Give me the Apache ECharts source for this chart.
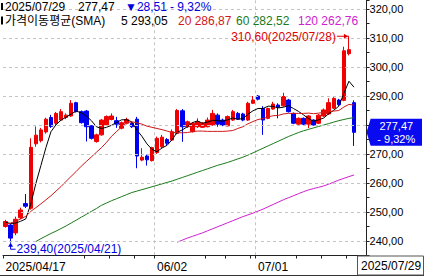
<!DOCTYPE html>
<html><head><meta charset="utf-8">
<script src="https://cdn.jsdelivr.net/npm/echarts@6/dist/echarts.min.js"></script>
<style>html,body{margin:0;padding:0;background:#fff}#c{width:424px;height:278px}</style>
</head><body><div id="c"></div>
<script>
const dates = ['2025/04/17','2025/04/21','2025/04/22','2025/04/23','2025/04/24','2025/04/25','2025/04/28','2025/04/29','2025/04/30','2025/05/01','2025/05/02','2025/05/05','2025/05/06','2025/05/07','2025/05/08','2025/05/09','2025/05/12','2025/05/13','2025/05/14','2025/05/15','2025/05/16','2025/05/19','2025/05/20','2025/05/21','2025/05/22','2025/05/23','2025/05/27','2025/05/28','2025/05/29','2025/05/30','2025/06/02','2025/06/03','2025/06/04','2025/06/05','2025/06/06','2025/06/09','2025/06/10','2025/06/11','2025/06/12','2025/06/13','2025/06/16','2025/06/17','2025/06/18','2025/06/20','2025/06/23','2025/06/24','2025/06/25','2025/06/26','2025/06/27','2025/06/30','2025/07/01','2025/07/02','2025/07/03','2025/07/07','2025/07/08','2025/07/09','2025/07/10','2025/07/11','2025/07/14','2025/07/15','2025/07/16','2025/07/17','2025/07/18','2025/07/21','2025/07/22','2025/07/23','2025/07/24','2025/07/25','2025/07/28','2025/07/29'];
const opens = [245.0,245.5,242.8,248.0,252.9,251.3,273.5,274.6,277.6,282.6,
280.6,281.7,282.6,283.1,287.7,284.6,284.8,279.7,274.3,276.6,
280.0,281.9,281.5,278.9,280.6,280.6,282.0,267.9,269.3,267.7,
270.5,272.5,275.0,274.8,277.1,284.9,279.4,277.7,279.4,279.2,
279.4,280.0,283.4,281.7,279.7,281.7,284.0,283.8,281.7,287.5,
290.0,285.7,282.3,285.5,286.9,286.6,288.6,284.0,280.3,282.3,
280.3,281.7,280.6,283.1,283.8,285.8,288.6,288.5,304.6,287.7];
const closes = [246.7,241.0,247.5,250.7,252.0,272.3,276.5,278.3,282.0,279.5,
284.0,284.6,283.4,287.5,284.6,280.8,279.4,275.4,276.6,281.7,
282.9,283.1,280.3,280.8,281.9,279.4,269.3,268.9,268.0,272.2,
275.4,275.8,273.7,277.7,285.0,279.4,281.1,280.6,281.1,280.6,
281.7,284.0,280.3,280.0,282.9,284.6,282.0,281.7,287.5,288.6,
288.9,281.7,285.7,287.2,286.1,289.8,284.6,280.6,282.3,280.3,
283.1,280.0,283.4,285.2,287.7,289.2,287.0,305.6,305.98,277.47];
const highs = [247.3,246.0,248.4,251.5,256.2,275.4,279.5,279.0,282.5,283.5,
284.5,285.5,284.0,288.6,288.0,285.0,285.2,280.0,277.0,282.0,
283.3,284.0,282.8,281.2,282.5,281.0,282.8,272.0,269.8,272.5,
276.0,276.6,275.5,278.5,285.5,285.5,281.5,281.0,282.3,281.0,
282.6,285.2,284.0,282.2,283.3,285.2,284.5,284.2,288.0,290.0,
290.3,286.5,286.0,288.0,287.5,291.1,289.0,284.3,282.6,282.6,
283.4,282.0,283.8,285.7,289.2,289.6,289.0,307.0,310.6,288.5];
const lows = [244.6,239.4,242.0,247.5,251.4,250.8,272.5,274.0,277.0,279.0,
280.0,281.5,282.0,282.8,284.3,280.5,274.3,275.0,273.9,276.3,
279.8,281.6,279.0,278.5,280.2,279.0,265.1,267.5,266.0,267.4,
270.0,272.0,273.0,274.5,276.8,274.2,279.0,277.4,279.0,279.0,
279.2,279.8,279.4,279.6,279.5,281.4,281.7,281.3,281.4,287.2,
288.5,276.6,282.0,285.3,282.3,286.3,284.3,280.3,280.0,280.0,
278.9,279.8,280.3,282.8,283.5,285.5,286.6,288.2,304.0,272.8];
const ma5 = [246.5,246.0,246.2,246.8,247.6,252.7,259.8,266.0,272.2,277.7,
280.1,281.7,282.7,283.8,284.8,284.2,283.1,281.5,279.4,278.8,
279.2,279.9,280.9,281.8,281.8,281.1,278.3,276.1,273.5,271.6,
270.8,272.1,273.0,275.0,277.5,278.3,279.4,280.8,281.4,280.6,
281.0,281.6,281.5,281.3,281.8,282.4,282.0,282.2,283.7,284.9,
285.7,285.7,286.5,286.4,285.9,286.1,286.7,285.7,284.7,283.5,
282.2,281.3,281.8,282.4,283.9,285.1,286.5,290.9,295.1,293.05];
const ma20 = [245.8,246.2,246.8,247.6,248.5,250.2,251.5,252.8,254.2,255.6,
257.2,258.8,260.6,262.3,264.0,265.8,267.4,269.0,270.6,272.2,
274.0,276.1,277.8,279.3,280.8,281.1,280.8,280.3,279.6,279.2,
278.8,278.4,277.9,277.4,277.4,277.3,277.4,277.7,277.9,277.9,
277.8,277.8,277.8,277.8,277.9,278.1,278.8,279.4,280.4,281.2,
281.9,282.2,282.8,283.2,283.3,283.8,284.0,284.0,284.0,284.0,
284.1,283.9,284.1,284.3,284.6,284.8,285.0,286.2,287.1,286.87];
const ma60 = [null,null,null,null,null,null,239.8,240.8,241.7,242.6,
243.4,244.3,245.2,246.2,247.2,248.2,249.2,250.2,251.2,252.3,
253.1,253.9,254.6,255.3,256.0,256.7,257.2,257.7,258.2,258.7,
259.2,259.7,260.2,260.7,261.3,261.9,262.5,263.1,263.7,264.3,
264.9,265.5,266.1,266.6,267.1,267.7,268.3,268.9,269.6,270.4,
271.2,272.0,272.8,273.6,274.4,275.2,276.0,276.7,277.4,278.0,
278.5,279.0,279.5,280.0,280.5,281.0,281.5,281.9,282.3,282.52];
const ma120 = [null,null,null,null,null,null,null,null,null,null,
null,null,null,null,null,null,null,null,null,null,
null,null,null,null,null,null,null,null,null,null,
null,null,null,null,239.6,240.3,241.0,241.6,242.2,242.8,
243.5,244.2,244.9,245.6,246.3,247.0,247.7,248.4,249.0,249.6,
250.3,251.0,251.8,252.6,253.4,254.2,254.9,255.6,256.3,257.0,
257.6,258.1,258.5,259.0,259.6,260.3,261.0,261.6,262.2,262.76];
const yTicks = [240,250,260,270,280,290,300,310,320];
const xLabels = ['2025/04/17','06/02','07/01'];
const xTickDates = ['2025/04/17','2025/05/12','2025/05/19','2025/05/27','2025/06/02','2025/06/16','2025/06/23','2025/06/30','2025/07/01','2025/07/14','2025/07/21','2025/07/28'];
const maNames = ['5','20','60','120'];
const maColors = ['#000000','#d01818','#1a7a1a','#d020d0'];
const upColor = '#f00000', downColor = '#0000f0';

const W = 424, H = 278;
const FONT = "'Liberation Sans','Noto Sans CJK KR',sans-serif";
const fmt = v => Number(v).toFixed(2).replace('.', ',');
const n = dates.length;
const last = closes[n-1], prev = closes[n-2];
const chg = last - prev;
const pct = chg / prev * 100;
const sgn = chg < 0 ? '- ' : '+ ';
const arrowCh = chg < 0 ? '\u25BC' : '\u25B2';
const labelIdx = dates.map((d,i)=> xLabels.some(l => d.endsWith(l)) ? i : -1).filter(i=>i>=0);
const tickIdx = xTickDates.map(d => dates.indexOf(d));
const gridIdx = labelIdx.filter(i => i > 0);

const chart = echarts.init(document.getElementById('c'), null, {renderer:'svg'});
const cats = dates.concat(['', '']);
const mas = [ma5, ma20, ma60, ma120];

const option = {
  animation: false,
  backgroundColor: '#ffffff',
  grid: {left: 3, right: 57.4, top: 0.3, bottom: 22.5},
  xAxis: {
    type: 'category', data: cats, boundaryGap: true,
    axisLine: {lineStyle: {color: '#222', width: 1}},
    axisTick: {show: true, length: 3, lineStyle: {color: '#222'}, interval: (i) => tickIdx.includes(i)},
    axisLabel: {interval: (i) => labelIdx.includes(i), align: 'left', margin: 5, color: '#000',
      fontFamily: FONT, fontSize: 12,
      formatter: (v, i) => { const l = xLabels.find(x => v.endsWith(x)); return l || ''; }},
    splitLine: {show: true, interval: (i) => gridIdx.includes(i), lineStyle: {color: '#c4c4c4', type: [3,3]}}
  },
  yAxis: {
    type: 'value', position: 'right', min: 235, max: 323, interval: 5, scale: true,
    axisLine: {show: true, lineStyle: {color: '#222'}},
    axisTick: {show: true, length: 3, lineStyle: {color: '#222'}},
    axisLabel: {margin: 3, color: '#000', fontFamily: FONT, fontSize: 11,
      formatter: v => {
        const r = Math.round(v*100)/100;
        if (!yTicks.includes(r)) return '';
        if (Math.abs(r - last) < 4.7) return '';   // covered by the price tag
        return fmt(v);
      }},
    splitLine: {show: false}
  },
  series: [
    {type: 'line', data: [], z: 1, silent: true,
      markLine: {silent: true, symbol: ['none','none'], label: {show: false},
        lineStyle: {color: '#c4c4c4', type: [3,3], width: 1},
        data: yTicks.map(v => ({yAxis: v}))}},
    {type: 'candlestick', z: 3, barWidth: 4,
      data: dates.map((d,i) => [opens[i], closes[i], lows[i], highs[i]]),
      itemStyle: {color: upColor, color0: downColor, borderColor: upColor, borderColor0: downColor, borderWidth: 1}},
  ].concat(mas.map((m, k) => ({
    type: 'line', name: 'MA' + maNames[k], data: m, showSymbol: false, symbol: 'none', z: 4,
    lineStyle: {color: maColors[k], width: 1}, connectNulls: false
  })))
};
chart.setOption(option);

const hiI = highs.indexOf(Math.max(...highs));
const loI = lows.indexOf(Math.min(...lows));
const [xh, yh] = chart.convertToPixel({gridIndex:0}, [hiI, highs[hiI]]);
const [xl, yl] = chart.convertToPixel({gridIndex:0}, [loI, lows[loI]]);
const py = chart.convertToPixel({yAxisIndex:0}, last);
const ax = W - 57.4;

function txt(x, y, text, fill, size, align, valign) {
  return {type:'text', silent:true, z: 100, style:{x, y, text, fill, font: size + 'px ' + FONT,
    textAlign: align || 'left', align: align || 'left', textVerticalAlign: valign || 'middle', verticalAlign: valign || 'middle'}};
}
const g = [];
// header
g.push({type:'rect', z:100, shape:{x:1, y:3, width:2, height:7}, style:{fill:'#000'}});
g.push({type:'rect', z:100, shape:{x:1, y:16.5, width:2, height:8}, style:{fill:'#000'}});
g.push(txt(5, 7, dates[n-1], '#000', 12));
g.push(txt(78, 7, fmt(last), '#000', 12));
g.push(txt(125, 7, arrowCh + fmt(Math.abs(chg)), '#0000e0', 12));
g.push(txt(170, 7, sgn + fmt(Math.abs(pct)) + '%', '#0000e0', 12));
g.push(txt(5, 21, '가격이동평균(SMA)', '#000', 12));
const maX = [121, 178, 236, 298];
mas.forEach((m, k) => g.push(txt(maX[k], 21, maNames[k] + ' ' + fmt(m[m.length-1]), maColors[k], 12)));
// price tag
g.push({type:'polygon', z:100, shape:{points:[[ax,py],[ax+4,py-13.5],[W-2,py-13.5],[W-2,py+13.5],[ax+4,py+13.5]]}, style:{fill:'#0a0af0'}});
g.push(txt((ax+W)/2+1, py-6.5, fmt(last), '#fff', 11, 'center'));
g.push(txt((ax+W)/2+1, py+6.5, sgn + fmt(Math.abs(pct)) + '%', '#fff', 11, 'center'));
// high annotation
g.push({type:'polyline', z:100, shape:{points:[[xh-12,yh],[xh,yh]]}, style:{stroke:'#e00000', lineWidth:1, fill:null}});
g.push({type:'polygon', z:100, shape:{points:[[xh-1,yh],[xh-5,yh-2.5],[xh-5,yh+2.5]]}, style:{fill:'#e00000'}});
g.push(txt(xh-13, yh+1, fmt(highs[hiI]) + '(' + dates[hiI] + ')', '#e00000', 12, 'right'));
// low annotation
g.push({type:'polyline', z:100, shape:{points:[[xl,yl+1],[xl,yl+6.5],[xl+5,yl+6.5]]}, style:{stroke:'#0000e0', lineWidth:1, fill:null}});
g.push({type:'polygon', z:100, shape:{points:[[xl,yl],[xl-2.5,yl+4],[xl+2.5,yl+4]]}, style:{fill:'#0000e0'}});
g.push(txt(xl+6, yl+6.5, fmt(lows[loI]) + '(' + dates[loI] + ')', '#0000e0', 12));
// bottom frame and last date box
g.push({type:'line', z:100, shape:{x1:0, y1:275.5, x2:W, y2:275.5}, style:{stroke:'#333', lineWidth:1}});
g.push({type:'rect', z:100, shape:{x:357.5, y:256, width:66, height:19}, style:{fill:'#fff', stroke:'#555', lineWidth:1}});
g.push(txt(361, 266, dates[n-1], '#000', 12));
chart.setOption({graphic: g});
</script></body></html>
